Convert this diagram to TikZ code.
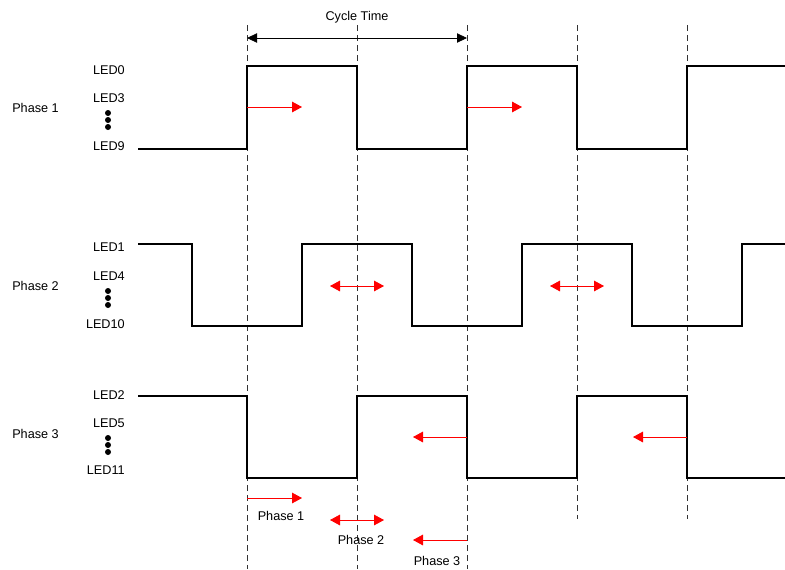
\documentclass[tikz,border=0pt]{standalone}
\usepackage{fontspec}
\setmainfont{Liberation Sans}
\usetikzlibrary{arrows.meta}
\begin{document}
\begin{tikzpicture}[x=0.75pt,y=-0.75pt,
  lbl/.style={font=\fontsize{9.5}{11}\selectfont, inner sep=0pt},
  wave/.style={line width=1.1pt, black, line join=miter},
  guide/.style={line width=0.5pt, black!80, dash pattern=on 4.5pt off 3pt},
  redarr/.style={red, line width=0.6pt, -{Triangle[length=7.5pt,width=8pt]}},
  redbi/.style={red, line width=0.6pt, {Triangle[length=7.5pt,width=8pt]}-{Triangle[length=7.5pt,width=8pt]}},
  blkbi/.style={black, line width=0.6pt, {Triangle[length=7.5pt,width=7pt]}-{Triangle[length=7.5pt,width=7pt]}},
  dot/.style={circle, fill=black, inner sep=0pt, minimum size=4.5pt}]
\useasboundingbox (0,0) rectangle (785,569);
% guides
\foreach \x in {247,357,467} \draw[guide] (\x,25) -- (\x,569);
\foreach \x in {577,687} \draw[guide] (\x,25) -- (\x,519);
% cycle time
\coordinate (ctA) at (247,38);
\coordinate (ctB) at (467,38);
\draw[blkbi] (ctA) -- (ctB);
\node[lbl] (ct) at (357,17) {Cycle Time};
% waveforms
\draw[wave] (138,149) -- (247,149) -- (247,66) -- (357,66) -- (357,149) -- (467,149) -- (467,66) -- (577,66) -- (577,149) -- (687,149) -- (687,66) -- (785,66);
\draw[wave] (138,244) -- (192,244) -- (192,326) -- (302,326) -- (302,244) -- (412,244) -- (412,326) -- (522,326) -- (522,244) -- (632,244) -- (632,326) -- (742,326) -- (742,244) -- (785,244);
\draw[wave] (138,396) -- (247,396) -- (247,478) -- (357,478) -- (357,396) -- (467,396) -- (467,478) -- (577,478) -- (577,396) -- (687,396) -- (687,478) -- (785,478);
% labels phase 1
\node[lbl, anchor=west] (p1) at (12,108) {Phase 1};
\node[lbl, anchor=east] (l0) at (125,70) {LED0};
\node[lbl, anchor=east] (l3) at (125,98) {LED3};
\node[lbl, anchor=east] (l9) at (125,146) {LED9};
\node[dot] (d1a) at (108,113) {};
\node[dot] (d1b) at (108,120) {};
\node[dot] (d1c) at (108,127) {};
% phase 2
\node[lbl, anchor=west] (p2) at (12,286) {Phase 2};
\node[lbl, anchor=east] (l1) at (125,247) {LED1};
\node[lbl, anchor=east] (l4) at (125,276) {LED4};
\node[lbl, anchor=east] (l10) at (125,324) {LED10};
\node[dot] (d2a) at (108,291) {};
\node[dot] (d2b) at (108,298) {};
\node[dot] (d2c) at (108,305) {};
% phase 3
\node[lbl, anchor=west] (p3) at (12,434) {Phase 3};
\node[lbl, anchor=east] (l2) at (125,395) {LED2};
\node[lbl, anchor=east] (l5) at (125,423) {LED5};
\node[lbl, anchor=east] (l11) at (125,470) {LED11};
\node[dot] (d3a) at (108,438) {};
\node[dot] (d3b) at (108,445) {};
\node[dot] (d3c) at (108,452) {};
% red arrows
\draw[redarr] (247,107) -- (302,107);
\draw[redarr] (467,107) -- (522,107);
\draw[redbi] (330,286) -- (384,286);
\draw[redbi] (550,286) -- (604,286);
\draw[redarr] (467,437) -- (413,437);
\draw[redarr] (687,437) -- (633,437);
% legend
\draw[redarr] (247,498) -- (302,498);
\node[lbl] (g1) at (281,516) {Phase 1};
\draw[redbi] (330,520) -- (384,520);
\node[lbl] (g2) at (361,540) {Phase 2};
\draw[redarr] (467,540) -- (413,540);
\node[lbl] (g3) at (437,561) {Phase 3};
\end{tikzpicture}
\end{document}
